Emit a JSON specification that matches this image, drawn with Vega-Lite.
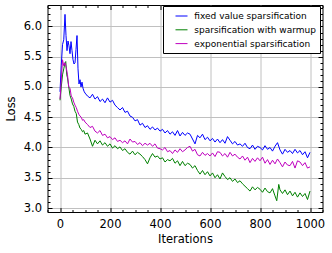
{
"$schema": "https://vega.github.io/schema/vega-lite/v6.json",
"width": 275, "height": 207,
"autosize": "none",
"padding": {"left": 47.5, "top": 5, "right": 9.5, "bottom": 41},
"config": {
 "font": "DejaVu Sans",
 "view": {"stroke": "black", "strokeWidth": 1},
 "axis": {"labelFont": "DejaVu Sans", "titleFont": "DejaVu Sans", "labelFontSize": 11.5, "titleFontSize": 11.5, "labelColor": "black", "titleColor": "black", "titleFontWeight": "normal", "domain": false, "tickColor": "black", "tickWidth": 1, "gridColor": "#c0c0c0", "gridWidth": 1, "gridOpacity": 1},
 "legend": {"orient": "none", "legendX": 115.5, "legendY": 1, "strokeColor": "black", "fillColor": "white", "padding": 3.5, "symbolType": "stroke", "symbolSize": 144, "symbolStrokeWidth": 1, "symbolOffset": 8.5, "labelOffset": 6.3, "rowPadding": 1.8, "labelFont": "DejaVu Sans", "labelFontSize": 9, "labelColor": "black", "labelLimit": 300, "title": null}
},
"data": {"values": [
{"iter":0,"loss":4.92,"method":"fixed value sparsification"},{"iter":5,"loss":5.35,"method":"fixed value sparsification"},{"iter":10,"loss":5.7,"method":"fixed value sparsification"},{"iter":15,"loss":5.78,"method":"fixed value sparsification"},{"iter":20,"loss":6.2,"method":"fixed value sparsification"},{"iter":24,"loss":5.85,"method":"fixed value sparsification"},{"iter":28,"loss":5.6,"method":"fixed value sparsification"},{"iter":32,"loss":5.76,"method":"fixed value sparsification"},{"iter":36,"loss":5.68,"method":"fixed value sparsification"},{"iter":40,"loss":5.55,"method":"fixed value sparsification"},{"iter":44,"loss":5.75,"method":"fixed value sparsification"},{"iter":48,"loss":5.6,"method":"fixed value sparsification"},{"iter":52,"loss":5.45,"method":"fixed value sparsification"},{"iter":56,"loss":5.38,"method":"fixed value sparsification"},{"iter":60,"loss":5.4,"method":"fixed value sparsification"},{"iter":64,"loss":5.62,"method":"fixed value sparsification"},{"iter":68,"loss":5.85,"method":"fixed value sparsification"},{"iter":72,"loss":5.3,"method":"fixed value sparsification"},{"iter":76,"loss":5.05,"method":"fixed value sparsification"},{"iter":80,"loss":5.12,"method":"fixed value sparsification"},{"iter":84,"loss":5.0,"method":"fixed value sparsification"},{"iter":88,"loss":5.08,"method":"fixed value sparsification"},{"iter":92,"loss":4.98,"method":"fixed value sparsification"},{"iter":96,"loss":4.93,"method":"fixed value sparsification"},{"iter":100,"loss":4.9,"method":"fixed value sparsification"},{"iter":110,"loss":4.85,"method":"fixed value sparsification"},{"iter":120,"loss":4.82,"method":"fixed value sparsification"},{"iter":130,"loss":4.88,"method":"fixed value sparsification"},{"iter":140,"loss":4.8,"method":"fixed value sparsification"},{"iter":150,"loss":4.84,"method":"fixed value sparsification"},{"iter":160,"loss":4.76,"method":"fixed value sparsification"},{"iter":170,"loss":4.8,"method":"fixed value sparsification"},{"iter":180,"loss":4.74,"method":"fixed value sparsification"},{"iter":190,"loss":4.82,"method":"fixed value sparsification"},{"iter":200,"loss":4.75,"method":"fixed value sparsification"},{"iter":210,"loss":4.78,"method":"fixed value sparsification"},{"iter":220,"loss":4.7,"method":"fixed value sparsification"},{"iter":230,"loss":4.66,"method":"fixed value sparsification"},{"iter":240,"loss":4.62,"method":"fixed value sparsification"},{"iter":250,"loss":4.66,"method":"fixed value sparsification"},{"iter":260,"loss":4.58,"method":"fixed value sparsification"},{"iter":270,"loss":4.6,"method":"fixed value sparsification"},{"iter":280,"loss":4.52,"method":"fixed value sparsification"},{"iter":290,"loss":4.5,"method":"fixed value sparsification"},{"iter":300,"loss":4.44,"method":"fixed value sparsification"},{"iter":310,"loss":4.46,"method":"fixed value sparsification"},{"iter":320,"loss":4.37,"method":"fixed value sparsification"},{"iter":330,"loss":4.4,"method":"fixed value sparsification"},{"iter":340,"loss":4.33,"method":"fixed value sparsification"},{"iter":350,"loss":4.36,"method":"fixed value sparsification"},{"iter":360,"loss":4.3,"method":"fixed value sparsification"},{"iter":370,"loss":4.34,"method":"fixed value sparsification"},{"iter":380,"loss":4.29,"method":"fixed value sparsification"},{"iter":390,"loss":4.32,"method":"fixed value sparsification"},{"iter":400,"loss":4.27,"method":"fixed value sparsification"},{"iter":410,"loss":4.3,"method":"fixed value sparsification"},{"iter":420,"loss":4.24,"method":"fixed value sparsification"},{"iter":430,"loss":4.28,"method":"fixed value sparsification"},{"iter":440,"loss":4.22,"method":"fixed value sparsification"},{"iter":450,"loss":4.26,"method":"fixed value sparsification"},{"iter":460,"loss":4.2,"method":"fixed value sparsification"},{"iter":470,"loss":4.28,"method":"fixed value sparsification"},{"iter":480,"loss":4.19,"method":"fixed value sparsification"},{"iter":490,"loss":4.25,"method":"fixed value sparsification"},{"iter":500,"loss":4.2,"method":"fixed value sparsification"},{"iter":510,"loss":4.24,"method":"fixed value sparsification"},{"iter":520,"loss":4.22,"method":"fixed value sparsification"},{"iter":530,"loss":4.14,"method":"fixed value sparsification"},{"iter":540,"loss":4.06,"method":"fixed value sparsification"},{"iter":550,"loss":4.2,"method":"fixed value sparsification"},{"iter":560,"loss":4.16,"method":"fixed value sparsification"},{"iter":570,"loss":4.22,"method":"fixed value sparsification"},{"iter":580,"loss":4.13,"method":"fixed value sparsification"},{"iter":590,"loss":4.17,"method":"fixed value sparsification"},{"iter":600,"loss":4.11,"method":"fixed value sparsification"},{"iter":610,"loss":4.15,"method":"fixed value sparsification"},{"iter":620,"loss":4.09,"method":"fixed value sparsification"},{"iter":630,"loss":4.14,"method":"fixed value sparsification"},{"iter":640,"loss":4.08,"method":"fixed value sparsification"},{"iter":650,"loss":4.13,"method":"fixed value sparsification"},{"iter":660,"loss":4.07,"method":"fixed value sparsification"},{"iter":670,"loss":4.18,"method":"fixed value sparsification"},{"iter":680,"loss":4.12,"method":"fixed value sparsification"},{"iter":690,"loss":4.06,"method":"fixed value sparsification"},{"iter":700,"loss":4.1,"method":"fixed value sparsification"},{"iter":710,"loss":4.04,"method":"fixed value sparsification"},{"iter":720,"loss":4.06,"method":"fixed value sparsification"},{"iter":730,"loss":4.02,"method":"fixed value sparsification"},{"iter":740,"loss":4.07,"method":"fixed value sparsification"},{"iter":750,"loss":4.0,"method":"fixed value sparsification"},{"iter":760,"loss":3.98,"method":"fixed value sparsification"},{"iter":770,"loss":4.04,"method":"fixed value sparsification"},{"iter":780,"loss":3.97,"method":"fixed value sparsification"},{"iter":790,"loss":4.02,"method":"fixed value sparsification"},{"iter":800,"loss":4.0,"method":"fixed value sparsification"},{"iter":810,"loss":3.96,"method":"fixed value sparsification"},{"iter":820,"loss":4.03,"method":"fixed value sparsification"},{"iter":830,"loss":3.97,"method":"fixed value sparsification"},{"iter":840,"loss":4.0,"method":"fixed value sparsification"},{"iter":850,"loss":3.94,"method":"fixed value sparsification"},{"iter":860,"loss":4.02,"method":"fixed value sparsification"},{"iter":870,"loss":4.08,"method":"fixed value sparsification"},{"iter":880,"loss":3.96,"method":"fixed value sparsification"},{"iter":890,"loss":3.89,"method":"fixed value sparsification"},{"iter":900,"loss":3.97,"method":"fixed value sparsification"},{"iter":910,"loss":3.92,"method":"fixed value sparsification"},{"iter":920,"loss":3.95,"method":"fixed value sparsification"},{"iter":930,"loss":3.9,"method":"fixed value sparsification"},{"iter":940,"loss":3.97,"method":"fixed value sparsification"},{"iter":950,"loss":3.91,"method":"fixed value sparsification"},{"iter":960,"loss":3.95,"method":"fixed value sparsification"},{"iter":970,"loss":3.88,"method":"fixed value sparsification"},{"iter":980,"loss":3.93,"method":"fixed value sparsification"},{"iter":990,"loss":3.83,"method":"fixed value sparsification"},{"iter":1000,"loss":3.92,"method":"fixed value sparsification"},
{"iter":0,"loss":4.78,"method":"sparsification with warmup"},{"iter":5,"loss":5.0,"method":"sparsification with warmup"},{"iter":10,"loss":5.2,"method":"sparsification with warmup"},{"iter":15,"loss":5.3,"method":"sparsification with warmup"},{"iter":20,"loss":5.4,"method":"sparsification with warmup"},{"iter":23,"loss":5.42,"method":"sparsification with warmup"},{"iter":27,"loss":5.2,"method":"sparsification with warmup"},{"iter":30,"loss":5.15,"method":"sparsification with warmup"},{"iter":35,"loss":5.0,"method":"sparsification with warmup"},{"iter":40,"loss":4.86,"method":"sparsification with warmup"},{"iter":45,"loss":4.8,"method":"sparsification with warmup"},{"iter":50,"loss":4.72,"method":"sparsification with warmup"},{"iter":55,"loss":4.68,"method":"sparsification with warmup"},{"iter":60,"loss":4.6,"method":"sparsification with warmup"},{"iter":65,"loss":4.56,"method":"sparsification with warmup"},{"iter":70,"loss":4.42,"method":"sparsification with warmup"},{"iter":75,"loss":4.38,"method":"sparsification with warmup"},{"iter":80,"loss":4.32,"method":"sparsification with warmup"},{"iter":85,"loss":4.3,"method":"sparsification with warmup"},{"iter":90,"loss":4.26,"method":"sparsification with warmup"},{"iter":95,"loss":4.28,"method":"sparsification with warmup"},{"iter":100,"loss":4.22,"method":"sparsification with warmup"},{"iter":110,"loss":4.24,"method":"sparsification with warmup"},{"iter":120,"loss":4.14,"method":"sparsification with warmup"},{"iter":130,"loss":4.02,"method":"sparsification with warmup"},{"iter":140,"loss":4.12,"method":"sparsification with warmup"},{"iter":150,"loss":4.06,"method":"sparsification with warmup"},{"iter":160,"loss":4.11,"method":"sparsification with warmup"},{"iter":170,"loss":4.04,"method":"sparsification with warmup"},{"iter":180,"loss":4.08,"method":"sparsification with warmup"},{"iter":190,"loss":4.02,"method":"sparsification with warmup"},{"iter":200,"loss":4.06,"method":"sparsification with warmup"},{"iter":210,"loss":3.99,"method":"sparsification with warmup"},{"iter":220,"loss":4.03,"method":"sparsification with warmup"},{"iter":230,"loss":3.98,"method":"sparsification with warmup"},{"iter":240,"loss":4.01,"method":"sparsification with warmup"},{"iter":250,"loss":3.95,"method":"sparsification with warmup"},{"iter":260,"loss":3.98,"method":"sparsification with warmup"},{"iter":270,"loss":3.92,"method":"sparsification with warmup"},{"iter":280,"loss":3.89,"method":"sparsification with warmup"},{"iter":290,"loss":3.94,"method":"sparsification with warmup"},{"iter":300,"loss":3.88,"method":"sparsification with warmup"},{"iter":310,"loss":3.92,"method":"sparsification with warmup"},{"iter":320,"loss":3.89,"method":"sparsification with warmup"},{"iter":330,"loss":3.85,"method":"sparsification with warmup"},{"iter":340,"loss":3.8,"method":"sparsification with warmup"},{"iter":350,"loss":3.73,"method":"sparsification with warmup"},{"iter":360,"loss":3.83,"method":"sparsification with warmup"},{"iter":370,"loss":3.9,"method":"sparsification with warmup"},{"iter":380,"loss":3.84,"method":"sparsification with warmup"},{"iter":390,"loss":3.86,"method":"sparsification with warmup"},{"iter":400,"loss":3.81,"method":"sparsification with warmup"},{"iter":410,"loss":3.83,"method":"sparsification with warmup"},{"iter":420,"loss":3.76,"method":"sparsification with warmup"},{"iter":430,"loss":3.8,"method":"sparsification with warmup"},{"iter":440,"loss":3.78,"method":"sparsification with warmup"},{"iter":450,"loss":3.82,"method":"sparsification with warmup"},{"iter":460,"loss":3.74,"method":"sparsification with warmup"},{"iter":470,"loss":3.78,"method":"sparsification with warmup"},{"iter":480,"loss":3.7,"method":"sparsification with warmup"},{"iter":490,"loss":3.77,"method":"sparsification with warmup"},{"iter":500,"loss":3.7,"method":"sparsification with warmup"},{"iter":510,"loss":3.74,"method":"sparsification with warmup"},{"iter":520,"loss":3.72,"method":"sparsification with warmup"},{"iter":530,"loss":3.66,"method":"sparsification with warmup"},{"iter":540,"loss":3.7,"method":"sparsification with warmup"},{"iter":550,"loss":3.62,"method":"sparsification with warmup"},{"iter":560,"loss":3.56,"method":"sparsification with warmup"},{"iter":570,"loss":3.62,"method":"sparsification with warmup"},{"iter":580,"loss":3.55,"method":"sparsification with warmup"},{"iter":590,"loss":3.6,"method":"sparsification with warmup"},{"iter":600,"loss":3.53,"method":"sparsification with warmup"},{"iter":610,"loss":3.58,"method":"sparsification with warmup"},{"iter":620,"loss":3.5,"method":"sparsification with warmup"},{"iter":630,"loss":3.55,"method":"sparsification with warmup"},{"iter":640,"loss":3.48,"method":"sparsification with warmup"},{"iter":650,"loss":3.58,"method":"sparsification with warmup"},{"iter":660,"loss":3.52,"method":"sparsification with warmup"},{"iter":670,"loss":3.47,"method":"sparsification with warmup"},{"iter":680,"loss":3.5,"method":"sparsification with warmup"},{"iter":690,"loss":3.44,"method":"sparsification with warmup"},{"iter":700,"loss":3.48,"method":"sparsification with warmup"},{"iter":710,"loss":3.42,"method":"sparsification with warmup"},{"iter":720,"loss":3.45,"method":"sparsification with warmup"},{"iter":730,"loss":3.4,"method":"sparsification with warmup"},{"iter":740,"loss":3.36,"method":"sparsification with warmup"},{"iter":750,"loss":3.32,"method":"sparsification with warmup"},{"iter":760,"loss":3.28,"method":"sparsification with warmup"},{"iter":770,"loss":3.35,"method":"sparsification with warmup"},{"iter":780,"loss":3.3,"method":"sparsification with warmup"},{"iter":790,"loss":3.34,"method":"sparsification with warmup"},{"iter":800,"loss":3.31,"method":"sparsification with warmup"},{"iter":810,"loss":3.26,"method":"sparsification with warmup"},{"iter":820,"loss":3.33,"method":"sparsification with warmup"},{"iter":830,"loss":3.27,"method":"sparsification with warmup"},{"iter":840,"loss":3.25,"method":"sparsification with warmup"},{"iter":850,"loss":3.32,"method":"sparsification with warmup"},{"iter":860,"loss":3.2,"method":"sparsification with warmup"},{"iter":867,"loss":3.12,"method":"sparsification with warmup"},{"iter":875,"loss":3.39,"method":"sparsification with warmup"},{"iter":880,"loss":3.3,"method":"sparsification with warmup"},{"iter":890,"loss":3.24,"method":"sparsification with warmup"},{"iter":900,"loss":3.3,"method":"sparsification with warmup"},{"iter":910,"loss":3.22,"method":"sparsification with warmup"},{"iter":920,"loss":3.28,"method":"sparsification with warmup"},{"iter":930,"loss":3.2,"method":"sparsification with warmup"},{"iter":940,"loss":3.26,"method":"sparsification with warmup"},{"iter":950,"loss":3.18,"method":"sparsification with warmup"},{"iter":960,"loss":3.25,"method":"sparsification with warmup"},{"iter":970,"loss":3.19,"method":"sparsification with warmup"},{"iter":980,"loss":3.24,"method":"sparsification with warmup"},{"iter":990,"loss":3.14,"method":"sparsification with warmup"},{"iter":1000,"loss":3.28,"method":"sparsification with warmup"},
{"iter":0,"loss":4.8,"method":"exponential sparsification"},{"iter":5,"loss":5.1,"method":"exponential sparsification"},{"iter":10,"loss":5.45,"method":"exponential sparsification"},{"iter":15,"loss":5.35,"method":"exponential sparsification"},{"iter":20,"loss":5.4,"method":"exponential sparsification"},{"iter":25,"loss":5.32,"method":"exponential sparsification"},{"iter":30,"loss":5.2,"method":"exponential sparsification"},{"iter":35,"loss":5.0,"method":"exponential sparsification"},{"iter":40,"loss":4.98,"method":"exponential sparsification"},{"iter":45,"loss":4.85,"method":"exponential sparsification"},{"iter":50,"loss":4.82,"method":"exponential sparsification"},{"iter":55,"loss":4.75,"method":"exponential sparsification"},{"iter":60,"loss":4.7,"method":"exponential sparsification"},{"iter":65,"loss":4.66,"method":"exponential sparsification"},{"iter":70,"loss":4.6,"method":"exponential sparsification"},{"iter":75,"loss":4.55,"method":"exponential sparsification"},{"iter":80,"loss":4.52,"method":"exponential sparsification"},{"iter":85,"loss":4.5,"method":"exponential sparsification"},{"iter":90,"loss":4.45,"method":"exponential sparsification"},{"iter":95,"loss":4.46,"method":"exponential sparsification"},{"iter":100,"loss":4.42,"method":"exponential sparsification"},{"iter":110,"loss":4.38,"method":"exponential sparsification"},{"iter":120,"loss":4.33,"method":"exponential sparsification"},{"iter":130,"loss":4.35,"method":"exponential sparsification"},{"iter":140,"loss":4.27,"method":"exponential sparsification"},{"iter":150,"loss":4.24,"method":"exponential sparsification"},{"iter":160,"loss":4.28,"method":"exponential sparsification"},{"iter":170,"loss":4.2,"method":"exponential sparsification"},{"iter":180,"loss":4.22,"method":"exponential sparsification"},{"iter":190,"loss":4.16,"method":"exponential sparsification"},{"iter":200,"loss":4.18,"method":"exponential sparsification"},{"iter":210,"loss":4.13,"method":"exponential sparsification"},{"iter":220,"loss":4.16,"method":"exponential sparsification"},{"iter":230,"loss":4.1,"method":"exponential sparsification"},{"iter":240,"loss":4.12,"method":"exponential sparsification"},{"iter":250,"loss":4.08,"method":"exponential sparsification"},{"iter":260,"loss":4.11,"method":"exponential sparsification"},{"iter":270,"loss":4.06,"method":"exponential sparsification"},{"iter":280,"loss":4.14,"method":"exponential sparsification"},{"iter":290,"loss":4.09,"method":"exponential sparsification"},{"iter":300,"loss":4.1,"method":"exponential sparsification"},{"iter":310,"loss":4.05,"method":"exponential sparsification"},{"iter":320,"loss":4.08,"method":"exponential sparsification"},{"iter":330,"loss":4.03,"method":"exponential sparsification"},{"iter":340,"loss":4.07,"method":"exponential sparsification"},{"iter":350,"loss":4.04,"method":"exponential sparsification"},{"iter":360,"loss":4.07,"method":"exponential sparsification"},{"iter":370,"loss":4.02,"method":"exponential sparsification"},{"iter":380,"loss":4.06,"method":"exponential sparsification"},{"iter":390,"loss":3.99,"method":"exponential sparsification"},{"iter":400,"loss":3.98,"method":"exponential sparsification"},{"iter":410,"loss":3.96,"method":"exponential sparsification"},{"iter":420,"loss":4.0,"method":"exponential sparsification"},{"iter":430,"loss":3.93,"method":"exponential sparsification"},{"iter":440,"loss":3.95,"method":"exponential sparsification"},{"iter":450,"loss":3.9,"method":"exponential sparsification"},{"iter":460,"loss":3.96,"method":"exponential sparsification"},{"iter":470,"loss":3.92,"method":"exponential sparsification"},{"iter":480,"loss":3.98,"method":"exponential sparsification"},{"iter":490,"loss":3.93,"method":"exponential sparsification"},{"iter":500,"loss":3.96,"method":"exponential sparsification"},{"iter":510,"loss":4.0,"method":"exponential sparsification"},{"iter":520,"loss":4.02,"method":"exponential sparsification"},{"iter":530,"loss":3.94,"method":"exponential sparsification"},{"iter":540,"loss":3.97,"method":"exponential sparsification"},{"iter":550,"loss":3.88,"method":"exponential sparsification"},{"iter":560,"loss":3.86,"method":"exponential sparsification"},{"iter":570,"loss":3.92,"method":"exponential sparsification"},{"iter":580,"loss":3.87,"method":"exponential sparsification"},{"iter":590,"loss":3.9,"method":"exponential sparsification"},{"iter":600,"loss":3.86,"method":"exponential sparsification"},{"iter":610,"loss":3.91,"method":"exponential sparsification"},{"iter":620,"loss":3.85,"method":"exponential sparsification"},{"iter":630,"loss":3.93,"method":"exponential sparsification"},{"iter":640,"loss":3.92,"method":"exponential sparsification"},{"iter":650,"loss":3.86,"method":"exponential sparsification"},{"iter":660,"loss":3.9,"method":"exponential sparsification"},{"iter":670,"loss":3.84,"method":"exponential sparsification"},{"iter":680,"loss":3.92,"method":"exponential sparsification"},{"iter":690,"loss":3.86,"method":"exponential sparsification"},{"iter":700,"loss":3.89,"method":"exponential sparsification"},{"iter":710,"loss":3.84,"method":"exponential sparsification"},{"iter":720,"loss":3.81,"method":"exponential sparsification"},{"iter":730,"loss":3.86,"method":"exponential sparsification"},{"iter":740,"loss":3.79,"method":"exponential sparsification"},{"iter":750,"loss":3.84,"method":"exponential sparsification"},{"iter":760,"loss":3.75,"method":"exponential sparsification"},{"iter":770,"loss":3.82,"method":"exponential sparsification"},{"iter":780,"loss":3.77,"method":"exponential sparsification"},{"iter":790,"loss":3.83,"method":"exponential sparsification"},{"iter":800,"loss":3.78,"method":"exponential sparsification"},{"iter":810,"loss":3.84,"method":"exponential sparsification"},{"iter":820,"loss":3.74,"method":"exponential sparsification"},{"iter":830,"loss":3.8,"method":"exponential sparsification"},{"iter":840,"loss":3.72,"method":"exponential sparsification"},{"iter":850,"loss":3.79,"method":"exponential sparsification"},{"iter":860,"loss":3.73,"method":"exponential sparsification"},{"iter":870,"loss":3.81,"method":"exponential sparsification"},{"iter":880,"loss":3.75,"method":"exponential sparsification"},{"iter":890,"loss":3.68,"method":"exponential sparsification"},{"iter":900,"loss":3.76,"method":"exponential sparsification"},{"iter":910,"loss":3.71,"method":"exponential sparsification"},{"iter":920,"loss":3.7,"method":"exponential sparsification"},{"iter":930,"loss":3.77,"method":"exponential sparsification"},{"iter":940,"loss":3.66,"method":"exponential sparsification"},{"iter":950,"loss":3.78,"method":"exponential sparsification"},{"iter":960,"loss":3.76,"method":"exponential sparsification"},{"iter":970,"loss":3.7,"method":"exponential sparsification"},{"iter":980,"loss":3.75,"method":"exponential sparsification"},{"iter":990,"loss":3.66,"method":"exponential sparsification"},{"iter":1000,"loss":3.68,"method":"exponential sparsification"}
]},
"resolve": {"axis": {"x": "independent", "y": "independent"}},
"layer": [
 {"mark": {"type": "line", "strokeWidth": 1},
  "encoding": {
   "x": {"field": "iter", "type": "quantitative", "scale": {"domain": [-50, 1050], "nice": false, "zero": false},
         "axis": {"orient": "bottom", "values": [0, 200, 400, 600, 800, 1000], "format": "d", "ticks": false, "tickSize": 0, "labelPadding": 6, "grid": true, "title": "Iterations", "titlePadding": 4, "labelFlush": false}},
   "y": {"field": "loss", "type": "quantitative", "scale": {"domain": [2.934, 6.355], "nice": false, "zero": false},
         "axis": {"orient": "left", "values": [3, 3.5, 4, 4.5, 5, 5.5, 6], "format": ".1f", "ticks": false, "tickSize": 0, "labelPadding": 6, "grid": true, "title": "Loss", "titlePadding": 7, "labelFlush": false}},
   "color": {"field": "method", "type": "nominal",
             "scale": {"domain": ["fixed value sparsification", "sparsification with warmup", "exponential sparsification"], "range": ["#0000ff", "#008000", "#bf00bf"]},
             "legend": {"orient": "none"}}
  }},
 {"mark": {"type": "point", "opacity": 0},
  "encoding": {
   "x": {"field": "iter", "type": "quantitative", "axis": {"orient": "bottom", "values": [0, 200, 400, 600, 800, 1000], "labels": false, "grid": false, "tickSize": -4.5, "title": null}},
   "y": {"field": "loss", "type": "quantitative", "axis": {"orient": "left", "values": [3, 3.5, 4, 4.5, 5, 5.5, 6], "labels": false, "grid": false, "tickSize": -4.5, "title": null}}
  }},
 {"mark": {"type": "point", "opacity": 0},
  "encoding": {
   "x": {"field": "iter", "type": "quantitative", "axis": {"orient": "top", "values": [0, 200, 400, 600, 800, 1000], "labels": false, "grid": false, "tickSize": -4.5, "title": null}},
   "y": {"field": "loss", "type": "quantitative", "axis": {"orient": "right", "values": [3, 3.5, 4, 4.5, 5, 5.5, 6], "labels": false, "grid": false, "tickSize": -4.5, "title": null}}
  }},
 {"mark": {"type": "point", "opacity": 0},
  "encoding": {
   "x": {"field": "iter", "type": "quantitative", "axis": {"orient": "bottom", "values": [-50, 50, 100, 150, 250, 300, 350, 450, 500, 550, 650, 700, 750, 850, 900, 950, 1050], "labels": false, "grid": false, "tickSize": -2.5, "title": null}},
   "y": {"field": "loss", "type": "quantitative", "axis": {"orient": "left", "values": [3.1, 3.2, 3.3, 3.4, 3.6, 3.7, 3.8, 3.9, 4.1, 4.2, 4.3, 4.4, 4.6, 4.7, 4.8, 4.9, 5.1, 5.2, 5.3, 5.4, 5.6, 5.7, 5.8, 5.9, 6.1, 6.2, 6.3], "labels": false, "grid": false, "tickSize": -2.5, "title": null}}
  }},
 {"mark": {"type": "point", "opacity": 0},
  "encoding": {
   "x": {"field": "iter", "type": "quantitative", "axis": {"orient": "top", "values": [-50, 50, 100, 150, 250, 300, 350, 450, 500, 550, 650, 700, 750, 850, 900, 950, 1050], "labels": false, "grid": false, "tickSize": -2.5, "title": null}},
   "y": {"field": "loss", "type": "quantitative", "axis": {"orient": "right", "values": [3.1, 3.2, 3.3, 3.4, 3.6, 3.7, 3.8, 3.9, 4.1, 4.2, 4.3, 4.4, 4.6, 4.7, 4.8, 4.9, 5.1, 5.2, 5.3, 5.4, 5.6, 5.7, 5.8, 5.9, 6.1, 6.2, 6.3], "labels": false, "grid": false, "tickSize": -2.5, "title": null}}
  }}
]
}
